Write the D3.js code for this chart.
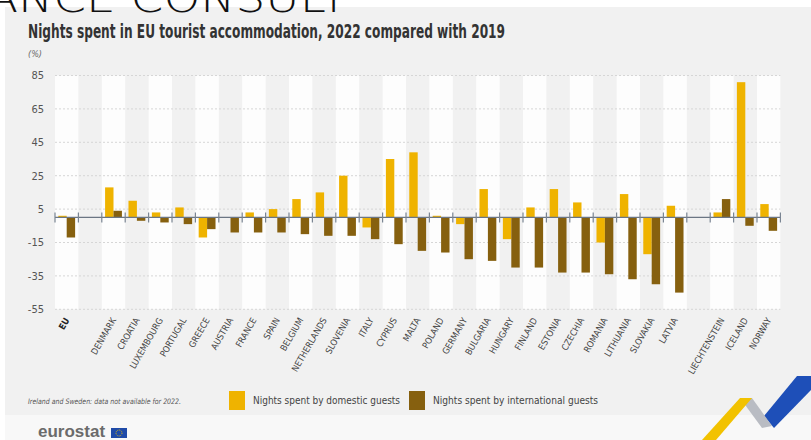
<!DOCTYPE html>
<html>
<head>
<meta charset="utf-8">
<script src="https://cdn.jsdelivr.net/npm/d3@7/dist/d3.min.js"></script>
<style>
  html, body { margin: 0; padding: 0; background: #ffffff; }
  svg { display: block; }
  .narrow { font-family: "Liberation Sans Narrow", "DejaVu Sans Condensed", "Roboto Condensed", sans-serif; }
</style>
</head>
<body>
<svg id="chart" width="811" height="440"></svg>
<script>
// Change in nights spent, 2022 vs 2019 (%). Empty names are spacer columns.
const countries = ["EU", "", "DENMARK", "CROATIA", "LUXEMBOURG", "PORTUGAL", "GREECE", "AUSTRIA",
  "FRANCE", "SPAIN", "BELGIUM", "NETHERLANDS", "SLOVENIA", "ITALY", "CYPRUS", "MALTA", "POLAND",
  "GERMANY", "BULGARIA", "HUNGARY", "FINLAND", "ESTONIA", "CZECHIA", "ROMANIA", "LITHUANIA",
  "SLOVAKIA", "LATVIA", "", "LIECHTENSTEIN", "ICELAND", "NORWAY"];
const domestic = [1, null, 18, 10, 3, 6, -12, 0, 3, 5, 11, 15, 25, -6, 35, 39, 1,
  -4, 17, -13, 6, 17, 9, -15, 14, -22, 7, null, 3, 81, 8];
const international = [-12, null, 4, -2, -3, -4, -7, -9, -9, -9, -10, -11, -11, -13, -16, -20, -21,
  -25, -26, -30, -30, -33, -33, -34, -37, -40, -45, null, 11, -5, -8];
const yTicks = [85, 65, 45, 25, 5, -15, -35, -55];
const seriesNames = ["Nights spent by domestic guests", "Nights spent by international guests"];
const seriesColors = ["#efb300", "#86600f"];

const svg = d3.select("#chart");

// background panels
svg.append("rect").attr("x", 5).attr("y", 7).attr("width", 806).attr("height", 408).attr("fill", "#f1f1f1");
svg.append("rect").attr("x", 5).attr("y", 415).attr("width", 806).attr("height", 25).attr("fill", "#f8f8f8");

// partial header lettering at the very top
svg.append("text")
  .attr("x", -14).attr("y", 12)
  .attr("textLength", 362).attr("lengthAdjust", "spacingAndGlyphs")
  .style("font-family", "DejaVu Sans, sans-serif")
  .style("font-weight", 300)
  .style("font-size", "40px")
  .attr("fill", "#111")
  .text("ANCE CONSULT");

// title
svg.append("text")
  .attr("class", "narrow")
  .attr("x", 28).attr("y", 38)
  .attr("textLength", 477).attr("lengthAdjust", "spacingAndGlyphs")
  .style("font-size", "19px").style("font-weight", 700)
  .attr("fill", "#333")
  .text("Nights spent in EU tourist accommodation, 2022 compared with 2019");
svg.append("text")
  .attr("class", "narrow")
  .attr("x", 28).attr("y", 57)
  .style("font-size", "9px").style("font-style", "italic")
  .attr("fill", "#666")
  .text("(%)");

const x = d3.scaleBand().domain(d3.range(countries.length)).range([55, 780.4]).padding(0);
const xs = d3.scaleBand().domain([0, 1]).range([0, x.bandwidth()]).paddingInner(0).paddingOuter(0.39);
const y = d3.scaleLinear().domain([-55, 85]).range([309.3, 75.5]);

// alternating column shading
svg.append("g").selectAll("rect")
  .data(d3.range(countries.length).filter(i => i % 2 === 0))
  .join("rect")
  .attr("x", i => x(i)).attr("width", x.bandwidth())
  .attr("y", y(85)).attr("height", y(-55) - y(85))
  .attr("fill", "#fdfdfd");

// dotted gridlines
svg.append("g").selectAll("line")
  .data(yTicks)
  .join("line")
  .attr("x1", 55).attr("x2", 780.4)
  .attr("y1", d => y(d)).attr("y2", d => y(d))
  .attr("stroke", "#d6d6d6").attr("stroke-width", 1).attr("stroke-dasharray", "2,2");

// y labels
svg.append("g").selectAll("text")
  .data(yTicks)
  .join("text")
  .attr("class", "narrow")
  .attr("x", 44).attr("y", d => y(d)).attr("dy", "0.35em")
  .attr("text-anchor", "end")
  .style("font-size", "11px")
  .attr("fill", "#555")
  .text(d => d);

// bars
const seriesData = [domestic, international];
seriesData.forEach((vals, s) => {
  svg.append("g").selectAll("rect")
    .data(vals.map((v, i) => ({ i, v })).filter(d => d.v !== null))
    .join("rect")
    .attr("x", d => x(d.i) + xs(s))
    .attr("width", xs.bandwidth())
    .attr("y", d => y(Math.max(d.v, 0)))
    .attr("height", d => Math.abs(y(d.v) - y(0)))
    .attr("fill", seriesColors[s]);
});

// zero axis with category separators
const y0 = y(0);
svg.append("line")
  .attr("x1", 55).attr("x2", 780.4).attr("y1", y0).attr("y2", y0)
  .attr("stroke", "#6b7684").attr("stroke-width", 1.3);
svg.append("g").selectAll("line")
  .data(d3.range(countries.length + 1))
  .join("line")
  .attr("x1", i => i < countries.length ? x(i) : x.range()[1])
  .attr("x2", i => i < countries.length ? x(i) : x.range()[1])
  .attr("y1", y0 - 5).attr("y2", y0 + 5)
  .attr("stroke", "#7a8593").attr("stroke-width", 1.2);

// category labels
svg.append("g").selectAll("text")
  .data(countries.map((c, i) => ({ c, i })).filter(d => d.c !== ""))
  .join("text")
  .attr("class", "narrow")
  .attr("text-anchor", "end")
  .attr("transform", d => `translate(${x(d.i) + x.bandwidth() / 2 + 3},${320}) rotate(-60)`)
  .style("font-size", "9px")
  .style("font-weight", d => d.c === "EU" ? 700 : 400)
  .attr("fill", d => d.c === "EU" ? "#222" : "#444")
  .text(d => d.c);

// footnote
svg.append("text")
  .attr("class", "narrow")
  .attr("x", 28).attr("y", 404)
  .attr("textLength", 153).attr("lengthAdjust", "spacingAndGlyphs")
  .style("font-size", "7.5px").style("font-style", "italic")
  .attr("fill", "#555")
  .text("Ireland and Sweden: data not available for 2022.");

// legend
const legendX = [229, 409];
const legendTextW = [147, 165];
const lg = svg.append("g").selectAll("g")
  .data(seriesNames)
  .join("g")
  .attr("transform", (d, i) => `translate(${legendX[i]},391)`);
lg.append("rect").attr("width", 16).attr("height", 19).attr("fill", (d, i) => seriesColors[i]);
lg.append("text")
  .attr("class", "narrow")
  .attr("x", 24).attr("y", 13)
  .attr("textLength", (d, i) => legendTextW[i]).attr("lengthAdjust", "spacingAndGlyphs")
  .style("font-size", "10.5px")
  .attr("fill", "#444")
  .text(d => d);

// eurostat mark
svg.append("text")
  .attr("x", 38).attr("y", 437)
  .style("font-family", "Liberation Sans, Arial, sans-serif")
  .style("font-size", "17px").style("font-weight", 700)
  .attr("fill", "#6b6b6b")
  .text("eurostat");
svg.append("rect").attr("x", 111).attr("y", 428).attr("width", 16).attr("height", 10).attr("fill", "#1f4aa8");
svg.append("circle").attr("cx", 119).attr("cy", 433).attr("r", 3).attr("fill", "none")
  .attr("stroke", "#f2c500").attr("stroke-width", 0.9).attr("stroke-dasharray", "1,1");

// corner ribbon
svg.append("polygon").attr("points", "797,376 811,376 811,390 774,428 764,416").attr("fill", "#1e4fb8");
svg.append("polygon").attr("points", "740,398 752,398 772,426 762,428").attr("fill", "#b9bcc3");
svg.append("polygon").attr("points", "740,398 752,398 716,440 702,440").attr("fill", "#f2c200");
</script>
</body>
</html>
